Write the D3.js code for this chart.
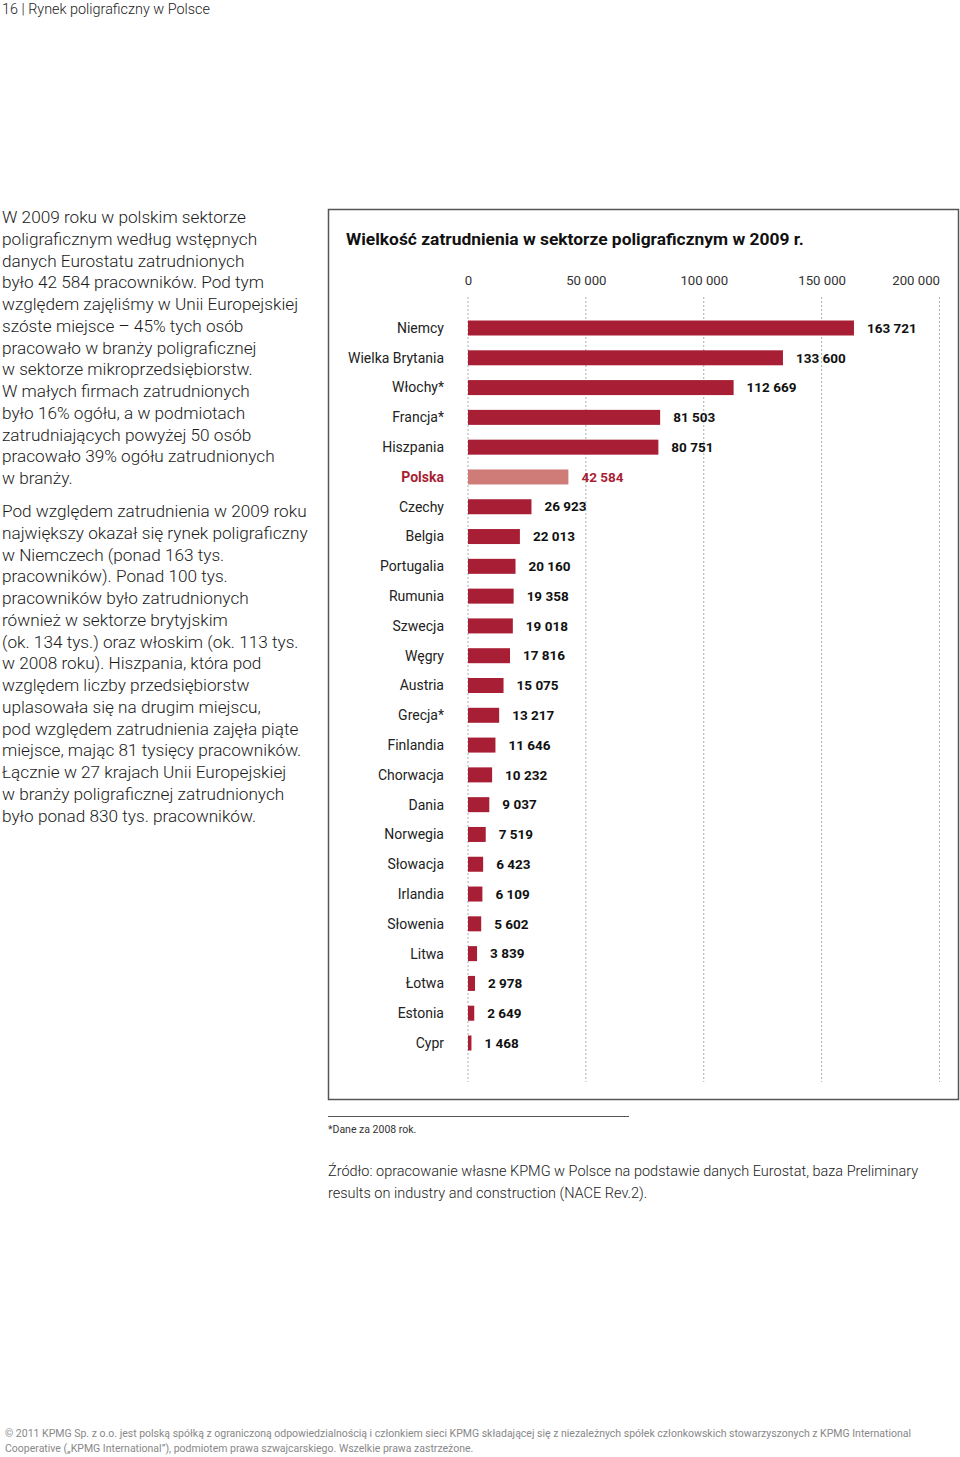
<!DOCTYPE html>
<html><head><meta charset="utf-8">
<script src="https://cdn.jsdelivr.net/npm/d3@7"></script>
<style>
html,body{margin:0;padding:0;background:#fff;}
svg{display:block;}
</style></head>
<body>
<svg id="page" width="960" height="1457"></svg>
<script>
const countries = ["Niemcy","Wielka Brytania","Włochy*","Francja*","Hiszpania","Polska","Czechy","Belgia","Portugalia","Rumunia","Szwecja","Węgry","Austria","Grecja*","Finlandia","Chorwacja","Dania","Norwegia","Słowacja","Irlandia","Słowenia","Litwa","Łotwa","Estonia","Cypr"];
const employment = [163721,133600,112669,81503,80751,42584,26923,22013,20160,19358,19018,17816,15075,13217,11646,10232,9037,7519,6423,6109,5602,3839,2978,2649,1468];
const highlight = "Polska";
const tickValues = [0,50000,100000,150000,200000];

const title = "Wielkość zatrudnienia w sektorze poligraficznym w 2009 r.";
const header = "16 | Rynek poligraficzny w Polsce";
const para1 = ["W 2009 roku w polskim sektorze","poligraficznym według wstępnych","danych Eurostatu zatrudnionych","było 42 584 pracowników. Pod tym","względem zajęliśmy w Unii Europejskiej","szóste miejsce – 45% tych osób","pracowało w branży poligraficznej","w sektorze mikroprzedsiębiorstw.","W małych firmach zatrudnionych","było 16% ogółu, a w podmiotach","zatrudniających powyżej 50 osób","pracowało 39% ogółu zatrudnionych","w branży."];
const para2 = ["Pod względem zatrudnienia w 2009 roku","największy okazał się rynek poligraficzny","w Niemczech (ponad 163 tys.","pracowników). Ponad 100 tys.","pracowników było zatrudnionych","również w sektorze brytyjskim","(ok. 134 tys.) oraz włoskim (ok. 113 tys.","w 2008 roku). Hiszpania, która pod","względem liczby przedsiębiorstw","uplasowała się na drugim miejscu,","pod względem zatrudnienia zajęła piąte","miejsce, mając 81 tysięcy pracowników.","Łącznie w 27 krajach Unii Europejskiej","w branży poligraficznej zatrudnionych","było ponad 830 tys. pracowników."];
const footnote = "*Dane za 2008 rok.";
const source = ["Źródło: opracowanie własne KPMG w Polsce na podstawie danych Eurostat, baza Preliminary","results on industry and construction (NACE Rev.2)."];
const footer = ["© 2011 KPMG Sp. z o.o. jest polską spółką z ograniczoną odpowiedzialnością i członkiem sieci KPMG składającej się z niezależnych spółek członkowskich stowarzyszonych z KPMG International","Cooperative („KPMG International”), podmiotem prawa szwajcarskiego. Wszelkie prawa zastrzeżone."];

const data = countries.map((c,i)=>({country:c, value:employment[i]}));
const fmt = v => d3.format(",")(v).replace(/,/g," ");

const svg = d3.select("#page");
const FONT = "Roboto, 'Noto Sans', sans-serif";
const BAR = "#a81f35", BAR_HI = "#cf7c79", TXT_HI = "#a81f35";

// header
svg.append("text").attr("x",2).attr("y",14).attr("font-family",FONT).attr("font-size",14.4).attr("fill","#222").attr("font-weight",300).text(header);

// left paragraphs
function para(lines, y0){
  const t = svg.append("text").attr("font-family",FONT).attr("font-size",17.2).attr("font-weight",300).attr("fill","#1a1a1a");
  lines.forEach((l,i)=>t.append("tspan").attr("x",2).attr("y",y0+i*21.75).text(l));
}
para(para1, 223);
para(para2, 517);

// chart box
svg.append("rect").attr("x",328.5).attr("y",209.5).attr("width",630).attr("height",890).attr("fill","none").attr("stroke","#555").attr("stroke-width",1.5);
svg.append("text").attr("x",346).attr("y",245).attr("font-family",FONT).attr("font-size",17.4).attr("font-weight",700).attr("fill","#111").text(title);

const x = d3.scaleLinear().domain([0,200000]).range([468,939.5]);
const y = d3.scalePoint().domain(countries).range([328,1043]);
const barH = 15;

// axis
const axis = d3.axisTop(x).tickValues(tickValues).tickSize(0).tickFormat(fmt);
const ag = svg.append("g").attr("transform","translate(0,288)").call(axis);
ag.select(".domain").remove();
ag.selectAll("text").attr("font-family",FONT).attr("font-size",13.2).attr("fill","#333").attr("font-weight",400)
  .attr("text-anchor",(d,i)=>i===tickValues.length-1?"end":"middle").attr("dy",0);

// grid
svg.append("g").selectAll("line").data(tickValues).join("line")
  .attr("x1",d=>x(d)).attr("x2",d=>x(d)).attr("y1",297).attr("y2",1082)
  .attr("stroke","#aaa").attr("stroke-width",1).attr("stroke-dasharray","2,2");

// bars
svg.append("g").selectAll("rect").data(data).join("rect")
  .attr("x",x(0)).attr("y",d=>y(d.country)-barH/2).attr("width",d=>x(d.value)-x(0)).attr("height",barH)
  .attr("fill",d=>d.country===highlight?BAR_HI:BAR);

// category labels
svg.append("g").selectAll("text").data(data).join("text")
  .attr("x",444).attr("y",d=>y(d.country)).attr("dy","0.35em").attr("text-anchor","end")
  .attr("font-family",FONT).attr("font-size",14)
  .attr("font-weight",d=>d.country===highlight?700:400)
  .attr("fill",d=>d.country===highlight?TXT_HI:"#222").text(d=>d.country);

// value labels
svg.append("g").selectAll("text").data(data).join("text")
  .attr("x",d=>x(d.value)+13).attr("y",d=>y(d.country)).attr("dy","0.35em")
  .attr("font-family",FONT).attr("font-size",13.5).attr("font-weight",700)
  .attr("fill",d=>d.country===highlight?TXT_HI:"#111").text(d=>fmt(d.value));

// footnote
svg.append("line").attr("x1",328).attr("x2",629).attr("y1",1116.5).attr("y2",1116.5).attr("stroke","#555").attr("stroke-width",1);
svg.append("text").attr("x",328).attr("y",1133).attr("font-family",FONT).attr("font-size",10.5).attr("fill","#333").text(footnote);
const st = svg.append("text").attr("font-family",FONT).attr("font-size",14.5).attr("font-weight",300).attr("fill","#222");
source.forEach((l,i)=>st.append("tspan").attr("x",328).attr("y",1176+i*22).text(l));

// footer
const ft = svg.append("text").attr("font-family",FONT).attr("font-size",10.5).attr("fill","#888");
footer.forEach((l,i)=>ft.append("tspan").attr("x",5).attr("y",1437+i*15).text(l));
</script>
</body></html>
